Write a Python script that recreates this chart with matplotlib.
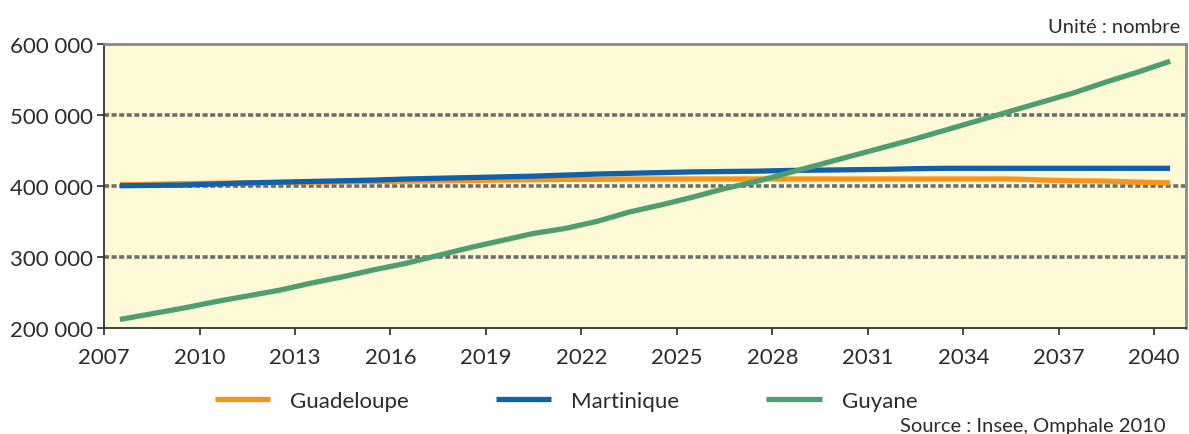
import matplotlib.pyplot as plt
import numpy as np
from matplotlib.ticker import FuncFormatter

plt.rcParams["font.family"] = ["Lato", "DejaVu Sans"]

# Population projections 2007-2040 (scenario central)
years = np.arange(2007, 2041)

guadeloupe = [401500, 402000, 403000, 403500, 404000, 404500, 405000, 405500,
              406000, 406500, 407000, 407500, 408000, 408500, 409000, 409000,
              409500, 409500, 409500, 409500, 409500, 409500, 409500, 409500,
              409500, 409500, 409500, 409500, 409500, 408000, 407000, 406500,
              405000, 404000]

martinique = [400000, 400500, 401000, 402500, 404000, 405000, 406000, 407000,
              408000, 409500, 410500, 411500, 412500, 413500, 415000, 416500,
              417500, 418500, 419500, 420000, 420500, 421500, 422000, 422500,
              423000, 424000, 424500, 424500, 424500, 424500, 424500, 424500,
              424500, 424500]

guyane = [212000, 220000, 228000, 237000, 245000, 253000, 263000, 272000,
          282000, 291000, 302000, 313000, 323000, 333000, 340000, 350000,
          363000, 373000, 384000, 396000, 406000, 418000, 430000, 442000,
          454000, 466000, 479000, 492000, 505000, 518000, 531000, 546000,
          560000, 575000]

series = [("Guadeloupe", guadeloupe, "#f7941d"),
          ("Martinique", martinique, "#1160ab"),
          ("Guyane", guyane, "#4f9e72")]

xticks = np.arange(2007, 2041, 3)
yticks = [200000, 300000, 400000, 500000, 600000]

fig = plt.figure(figsize=(11.89, 4.35), dpi=100)
ax = fig.add_axes([0.0875, 0.2437, 0.91, 0.654])
ax.set_facecolor("#fefad6")

# dotted horizontal guides at the inner ticks
for y in yticks[1:-1]:
    ax.axhline(y, color="#6d6d6d", lw=2.6, ls=(0, (1.4, 0.7)), zorder=1)

# points sit in the middle of each yearly category
for name, values, color in series:
    ax.plot(years + 0.5, values, color=color, lw=3.8, label=name,
            solid_capstyle="butt", zorder=3)

ax.set_xlim(2007, 2041)
ax.set_ylim(200000, 600000)
ax.set_xticks(xticks)
ax.set_yticks(yticks)
ax.yaxis.set_major_formatter(FuncFormatter(lambda v, p: f"{int(v):,}".replace(",", " ")))

ax.tick_params(axis="both", labelsize=16, colors="#2b2b2b", length=5, width=1.2)
ax.tick_params(axis="x", pad=9)
ax.tick_params(axis="y", pad=3)

for side in ["top", "right"]:
    ax.spines[side].set_color("#8a8a8a")
    ax.spines[side].set_linewidth(2)
for side in ["left", "bottom"]:
    ax.spines[side].set_color("#333333")
    ax.spines[side].set_linewidth(1.3)

fig.text(0.993, 0.918, "Unité : nombre", ha="right", va="bottom",
         fontsize=14.5, color="#2b2b2b")
fig.text(0.98, 0.0, "Source : Insee, Omphale 2010", ha="right", va="bottom",
         fontsize=14.5, color="#2b2b2b")

fig.legend(loc="center", bbox_to_anchor=(0.476, 0.077), ncol=3, frameon=False,
           fontsize=16, handlelength=2.5, handletextpad=0.9,
           columnspacing=3.9, labelcolor="#2b2b2b")

fig.savefig("out.png", dpi=100)
